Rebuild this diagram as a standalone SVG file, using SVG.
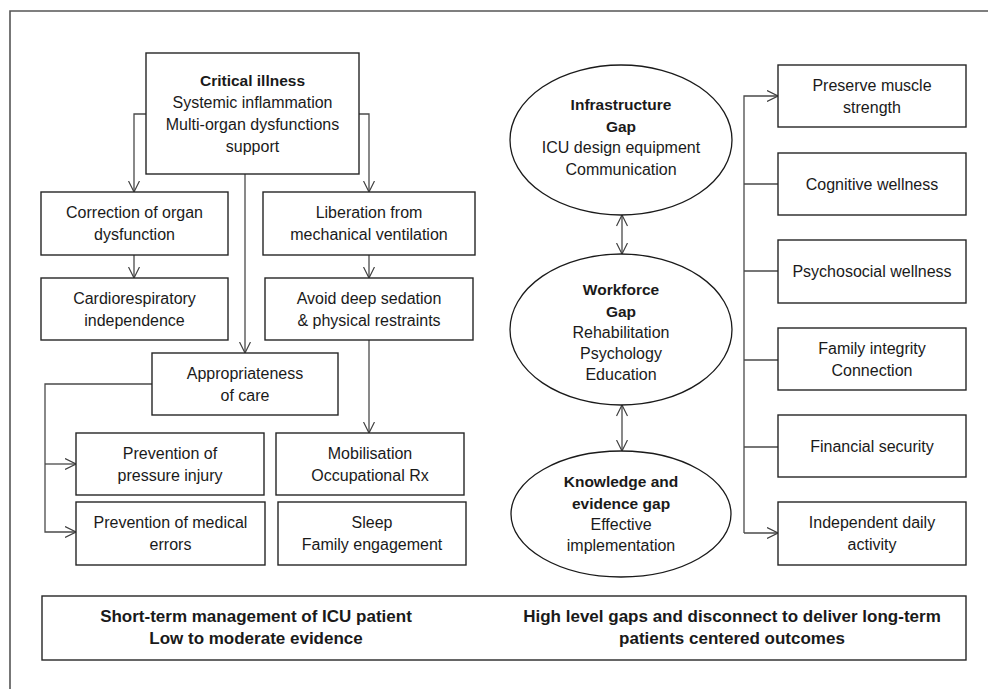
<svg xmlns="http://www.w3.org/2000/svg" width="988" height="689" viewBox="0 0 988 689">
<defs>
<marker id="arr" markerUnits="userSpaceOnUse" markerWidth="12" markerHeight="12" viewBox="0 0 12 12" refX="11.5" refY="6" orient="auto-start-reverse">
<path d="M0.5,0.5 L11.5,6 L0.5,11.5" fill="none" stroke="#404040" stroke-width="1.2"/>
</marker>
</defs>
<style>
.box{fill:#fff;stroke:#262626;stroke-width:1.4}
.ell{fill:#fff;stroke:#1a1a1a;stroke-width:1.3}
.con{fill:none;stroke:#4a4a4a;stroke-width:1.3}
text{font-family:"Liberation Sans",Arial,sans-serif;font-size:16px;fill:#1a1a1a;text-anchor:middle}
.b{font-weight:bold;font-size:15.5px}
.bb{font-weight:bold;font-size:17px}
</style>
<rect width="988" height="689" fill="#fff"/>
<path d="M10,689 V11 H988" fill="none" stroke="#555" stroke-width="1.6"/>

<g id="connectors">
<path class="con" d="M146,114 H134 V192" marker-end="url(#arr)"/>
<path class="con" d="M359,114 H369 V192" marker-end="url(#arr)"/>
<path class="con" d="M134,255 V278" marker-end="url(#arr)"/>
<path class="con" d="M369,255 V278" marker-end="url(#arr)"/>
<path class="con" d="M245,174 V353" marker-end="url(#arr)"/>
<path class="con" d="M152,384 H45 V532 H76" marker-end="url(#arr)"/>
<path class="con" d="M45,464 H76" marker-end="url(#arr)"/>
<path class="con" d="M369,340 V433" marker-end="url(#arr)"/>
<path class="con" d="M622,215 V254" marker-start="url(#arr)" marker-end="url(#arr)"/>
<path class="con" d="M622,405 V451" marker-start="url(#arr)" marker-end="url(#arr)"/>
<path class="con" d="M744,533 V96 H778" marker-end="url(#arr)"/>
<path class="con" d="M744,533 H778" marker-end="url(#arr)"/>
<path class="con" d="M744,184 H778 M744,271 H778 M744,360 H778 M744,447 H778"/>
</g>

<g id="critical">
<rect class="box" x="146" y="53" width="213" height="121"/>
<text class="b" x="252.5" y="86">Critical illness</text>
<text x="252.5" y="108">Systemic inflammation</text>
<text x="252.5" y="130">Multi-organ dysfunctions</text>
<text x="252.5" y="152">support</text>
</g>
<g id="correction">
<rect class="box" x="41" y="192" width="187" height="63"/>
<text x="134.5" y="218">Correction of organ</text>
<text x="134.5" y="240">dysfunction</text>
</g>
<g id="liberation">
<rect class="box" x="263" y="192" width="212" height="63"/>
<text x="369" y="218">Liberation from</text>
<text x="369" y="240">mechanical ventilation</text>
</g>
<g id="cardio">
<rect class="box" x="41" y="278" width="187" height="62"/>
<text x="134.5" y="304">Cardiorespiratory</text>
<text x="134.5" y="326">independence</text>
</g>
<g id="avoid">
<rect class="box" x="265" y="278" width="208" height="62"/>
<text x="369" y="304">Avoid deep sedation</text>
<text x="369" y="326">&amp; physical restraints</text>
</g>
<g id="appropriateness">
<rect class="box" x="152" y="353" width="186" height="62"/>
<text x="245" y="378.5">Appropriateness</text>
<text x="245" y="400.5">of care</text>
</g>
<g id="pressure">
<rect class="box" x="76" y="433" width="188" height="62"/>
<text x="170" y="458.5">Prevention of</text>
<text x="170" y="480.5">pressure injury</text>
</g>
<g id="mobilisation">
<rect class="box" x="276" y="433" width="188" height="62"/>
<text x="370" y="458.5">Mobilisation</text>
<text x="370" y="480.5">Occupational Rx</text>
</g>
<g id="medical">
<rect class="box" x="76" y="502" width="189" height="63"/>
<text x="170.5" y="528">Prevention of medical</text>
<text x="170.5" y="550">errors</text>
</g>
<g id="sleep">
<rect class="box" x="278" y="502" width="188" height="63"/>
<text x="372" y="528">Sleep</text>
<text x="372" y="550">Family engagement</text>
</g>

<g id="infrastructure">
<ellipse class="ell" cx="621" cy="140" rx="111" ry="75"/>
<text class="b" x="621" y="110">Infrastructure</text>
<text class="b" x="621" y="132">Gap</text>
<text x="621" y="153">ICU design equipment</text>
<text x="621" y="175">Communication</text>
</g>
<g id="workforce">
<ellipse class="ell" cx="621" cy="329.5" rx="111" ry="75.5"/>
<text class="b" x="621" y="295">Workforce</text>
<text class="b" x="621" y="317">Gap</text>
<text x="621" y="338">Rehabilitation</text>
<text x="621" y="359">Psychology</text>
<text x="621" y="380">Education</text>
</g>
<g id="knowledge">
<ellipse class="ell" cx="621" cy="514" rx="110" ry="63"/>
<text class="b" x="621" y="487">Knowledge and</text>
<text class="b" x="621" y="509">evidence gap</text>
<text x="621" y="530">Effective</text>
<text x="621" y="551">implementation</text>
</g>

<g id="preserve">
<rect class="box" x="778" y="65" width="188" height="62"/>
<text x="872" y="91">Preserve muscle</text>
<text x="872" y="113">strength</text>
</g>
<g id="cognitive">
<rect class="box" x="778" y="153" width="188" height="62"/>
<text x="872" y="189.5">Cognitive wellness</text>
</g>
<g id="psychosocial">
<rect class="box" x="778" y="240" width="188" height="63"/>
<text x="872" y="277">Psychosocial wellness</text>
</g>
<g id="family">
<rect class="box" x="778" y="328" width="188" height="62"/>
<text x="872" y="354">Family integrity</text>
<text x="872" y="376">Connection</text>
</g>
<g id="financial">
<rect class="box" x="778" y="415" width="188" height="62"/>
<text x="872" y="451.5">Financial security</text>
</g>
<g id="independent">
<rect class="box" x="778" y="502" width="188" height="63"/>
<text x="872" y="528">Independent daily</text>
<text x="872" y="550">activity</text>
</g>

<g id="summary">
<rect class="box" x="42" y="596" width="924" height="64"/>
<text class="bb" x="256" y="622">Short-term management of ICU patient</text>
<text class="bb" x="256" y="644">Low to moderate evidence</text>
<text class="bb" x="732" y="622">High level gaps and disconnect to deliver long-term</text>
<text class="bb" x="732" y="644">patients centered outcomes</text>
</g>
</svg>
